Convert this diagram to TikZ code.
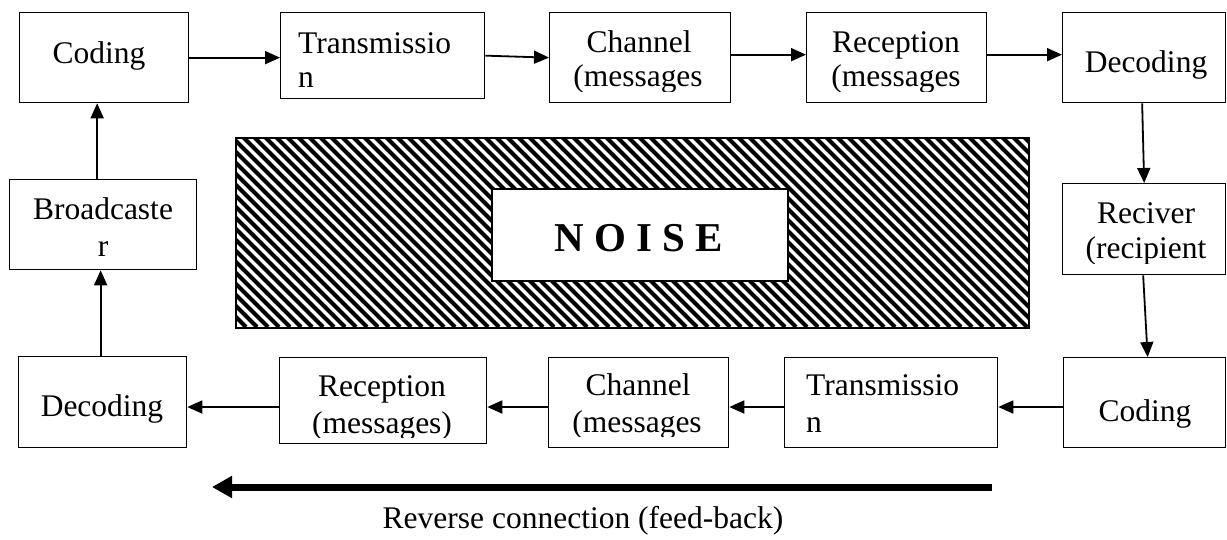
\documentclass[tikz,border=0pt]{standalone}
\usepackage{fontspec}
\setmainfont{Liberation Serif}
\usetikzlibrary{arrows.meta}
\begin{document}
\begin{tikzpicture}[x=1pt,y=-1pt,
  box/.style={draw, line width=1.3pt, inner sep=0pt, anchor=north west},
  txt/.style={inner sep=0pt, font=\fontsize{31.5}{34}\selectfont},
  arr/.style={line width=1.8pt, -{Triangle[length=15pt,width=13pt]}},
  hatch/.style={line width=4pt}]
\useasboundingbox (0,0) rectangle (1227,539);

% ---- noise area ----
\begin{scope}
  \clip (235,137) rectangle (1028,327);
  \foreach \x in {45,56,...,1030} \draw[hatch] (\x,137) -- ++(190,190);
\end{scope}
\node[box, line width=1.6pt, minimum width=793pt, minimum height=190pt] (noise) at (235,137) {};
\node[box, fill=white, line width=1.6pt, minimum width=296pt, minimum height=92pt] (nbox) at (491,188) {};
\node[inner sep=0pt, anchor=base, font=\fontsize{41}{44}\selectfont\bfseries] (ntext) at (639,251) {N O I S E};

% ---- top row ----
\node[box, minimum width=169pt, minimum height=90pt] (c1) at (19,12) {};
\node[txt, anchor=base] (c1t) at (99,63) {Coding};

\node[box, minimum width=204pt, minimum height=86pt] (t1) at (280,12) {};
\node[txt, anchor=base west] (t1a) at (298,53) {Transmissio};
\node[txt, anchor=base west] (t1b) at (298,87) {n};

\node[box, minimum width=181pt, minimum height=90pt] (ch1) at (549,12) {};
\node[txt, anchor=base] (ch1a) at (639,52) {Channel};
\begin{scope}
  \clip (549,12) rectangle (731,91);
  \node[txt, anchor=base] (ch1b) at (638,86) {(messages};
\end{scope}

\node[box, minimum width=180pt, minimum height=90pt] (r1) at (806,12) {};
\node[txt, anchor=base] (r1a) at (896,52) {Reception};
\begin{scope}
  \clip (806,12) rectangle (986,91);
  \node[txt, anchor=base] (r1b) at (896,86) {(messages};
\end{scope}

\node[box, minimum width=163pt, minimum height=90pt] (d1) at (1062,12) {};
\node[txt, anchor=base] (d1t) at (1146,72) {Decoding};

% ---- sides ----
\node[box, minimum width=187pt, minimum height=90pt] (b) at (9,179) {};
\node[txt, anchor=base] (bta) at (103,219) {Broadcaste};
\node[txt, anchor=base] (btb) at (103,256) {r};

\node[box, minimum width=163pt, minimum height=91pt] (rv) at (1062,183) {};
\node[txt, anchor=base] (rva) at (1146,223) {Reciver};
\begin{scope}
  \clip (1062,183) rectangle (1225,263);
  \node[txt, anchor=base] (rvb) at (1146,258) {(recipient};
\end{scope}

% ---- bottom row ----
\node[box, minimum width=162pt, minimum height=90pt] (c2) at (1063,357) {};
\node[txt, anchor=base] (c2t) at (1145,421) {Coding};

\node[box, minimum width=213pt, minimum height=90pt] (t2) at (784,357) {};
\node[txt, anchor=base west] (t2a) at (806,395) {Transmissio};
\node[txt, anchor=base west] (t2b) at (806,432) {n};

\node[box, minimum width=180pt, minimum height=90pt] (ch2) at (548,357) {};
\node[txt, anchor=base] (ch2a) at (638,395) {Channel};
\begin{scope}
  \clip (548,357) rectangle (728,436);
  \node[txt, anchor=base] (ch2b) at (637,432) {(messages};
\end{scope}

\node[box, minimum width=207pt, minimum height=86pt] (r2) at (279,357) {};
\node[txt, anchor=base] (r2a) at (382,396) {Reception};
\begin{scope}
  \clip (279,357) rectangle (486,437);
  \node[txt, anchor=base] (r2b) at (382,433) {(messages)};
\end{scope}

\node[box, minimum width=168pt, minimum height=91pt] (d2) at (18,356) {};
\node[txt, anchor=base] (d2t) at (102,416) {Decoding};

% ---- connectors ----
\coordinate (by) at (0,407);
\draw[arr] (c1.east) -- (c1.east -| t1.west);
\draw[arr] (t1.east) -- (ch1.west);
\draw[arr] ([yshift=3pt]ch1.east) -- ([yshift=3pt]r1.west);
\draw[arr] ([yshift=3pt]r1.east) -- ([yshift=3pt]d1.west);
\draw[arr] ([xshift=-2pt]d1.south) -- (rv.north);
\draw[arr] ([xshift=-1pt]rv.south) -- ([xshift=3pt]c2.north);
\draw[arr] (c2.west |- by) -- (t2.east |- by);
\draw[arr] (t2.west |- by) -- (ch2.east |- by);
\draw[arr] (ch2.west |- by) -- (r2.east |- by);
\draw[arr] (r2.west |- by) -- (d2.east |- by);
\draw[arr] ([xshift=-2pt]d2.north) -- ([xshift=-2pt]d2.north |- b.south);
\draw[arr] ([xshift=-6pt]b.north) -- ([xshift=-6pt]b.north |- c1.south);

% ---- feedback arrow ----
\coordinate (fbs) at (992,487);
\coordinate (fbe) at (212,487);
\draw[line width=7pt, -{Triangle[length=20pt,width=21pt]}] (fbs) -- (fbe);
\node[txt, anchor=base] (fbl) at (583,528) {Reverse connection (feed-back)};
\end{tikzpicture}
\end{document}
